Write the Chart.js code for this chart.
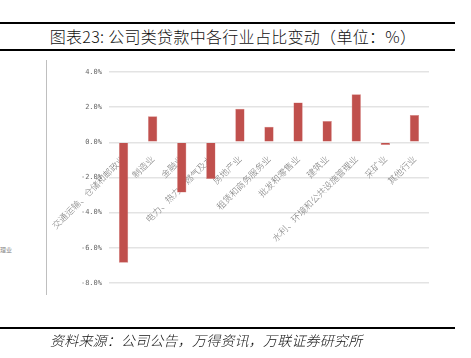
<!DOCTYPE html>
<html>
<head>
<meta charset="utf-8">
<script src="https://cdn.jsdelivr.net/npm/chart.js@4.4.1/dist/chart.umd.min.js"></script>
<style>
  html, body { margin: 0; padding: 0; background: #fff; }
  body { width: 471px; height: 358px; position: relative; overflow: hidden; font-family: "Noto Sans CJK SC", sans-serif; }
  .hline { position: absolute; left: 0; width: 455px; height: 2px; background: #000; }
  #title { position: absolute; left: 0; width: 466px; top: 26px; text-align: center; font-size: 16px; font-weight: 300; line-height: 20px; color: #111; letter-spacing: 0.3px; }
  #source { position: absolute; left: 50px; top: 330px; font-size: 14px; font-style: italic; font-weight: 300; line-height: 20px; color: #111; letter-spacing: 0.2px; }
  #vline { position: absolute; left: 46px; top: 60px; width: 1px; height: 235px; background: #bfbfbf; }
  #stray { position: absolute; left: 0px; top: 245px; font-size: 6px; color: #888; }
  #wrap { position: absolute; left: 0; top: 0; width: 471px; height: 358px; }
</style>
</head>
<body>
<div class="hline" style="top:22px"></div>
<div class="hline" style="top:49px"></div>
<div id="title">图表23: 公司类贷款中各行业占比变动（单位：%）</div>
<div id="vline"></div>
<div id="stray">理业</div>
<div id="wrap"><canvas id="c" width="471" height="358"></canvas></div>
<div class="hline" style="top:327px"></div>
<div id="source">资料来源：公司公告，万得资讯，万联证券研究所</div>
<script>
const categories = [
  "交通运输、仓储和邮政业",
  "制造业",
  "金融业",
  "电力、热力、燃气及水",
  "房地产业",
  "租赁和商务服务业",
  "批发和零售业",
  "建筑业",
  "水利、环境和公共设施管理业",
  "采矿业",
  "其他行业"
];
const changeValues = [-6.85, 1.49, -2.85, -2.08, 1.91, 0.88, 2.26, 1.21, 2.73, -0.15, 1.55];
const yTickValues = [-8, -6, -4, -2, 0, 2, 4];
const yTickLabels = ["-8.0%", "-6.0%", "-4.0%", "-2.0%", "0.0%", "2.0%", "4.0%"];

new Chart(document.getElementById('c'), {
  type: 'bar',
  data: {
    labels: categories,
    datasets: [{
      data: changeValues,
      backgroundColor: '#c0504d',
      borderColor: '#d98a88',
      borderWidth: 0.5,
      barPercentage: 0.64,
      categoryPercentage: 0.5
    }]
  },
  options: {
    responsive: false,
    animation: false,
    devicePixelRatio: 1,
    layout: { padding: { left: 49, right: 42, top: 72, bottom: 75 } },
    plugins: { legend: { display: false }, tooltip: { enabled: false } },
    scales: {
      x: {
        position: { y: 0 },
        grid: { display: false },
        border: { display: false },
        ticks: {
          minRotation: 45,
          maxRotation: 45,
          autoSkip: false,
          padding: 3,
          color: '#7a7a7a',
          font: { family: '"Noto Sans CJK SC"', size: 9, weight: '300' }
        }
      },
      y: {
        min: -8,
        max: 4,
        afterFit: s => { s.width = 60; },
        afterBuildTicks: s => { s.ticks = yTickValues.map(v => ({ value: v })); },
        grid: { color: '#e3e3e3', lineWidth: 1.5, drawTicks: false },
        border: { display: false },
        ticks: {
          padding: 7,
          color: '#666',
          font: { family: '"DejaVu Sans Mono"', size: 7 },
          callback: (v) => yTickLabels[yTickValues.indexOf(v)]
        }
      }
    }
  }
});
</script>
</body>
</html>
